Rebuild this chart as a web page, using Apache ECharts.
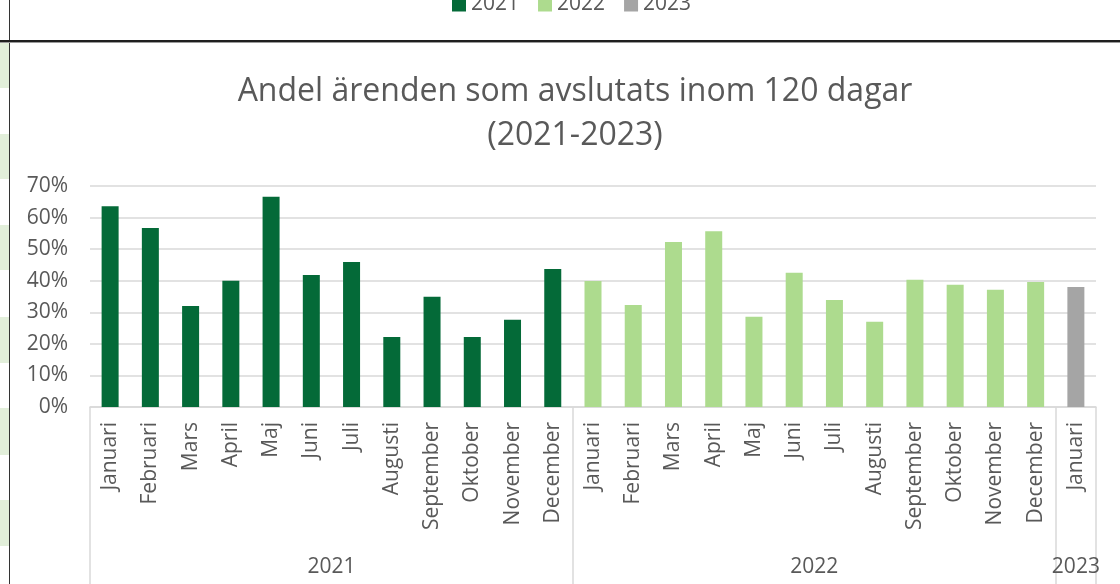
<!DOCTYPE html>
<html>
<head>
	<meta charset="utf-8">
	<title>Andel ärenden som avslutats inom 120 dagar</title>
	<script src="https://cdn.jsdelivr.net/npm/echarts@6.0.0/dist/echarts.min.js"></script>
	<style>
		html, body { margin: 0; padding: 0; background: #fff; }
		#chart { width: 1120px; height: 584px; }
	</style>
</head>
<body>
	<div id="chart"></div>
	<script>
		// data
		var years = ['2021', '2022', '2023'];
		var months2021 = ['Januari','Februari','Mars','April','Maj','Juni','Juli','Augusti','September','Oktober','November','December'];
		var months2022 = ['Januari','Februari','Mars','April','Maj','Juni','Juli','Augusti','September','Oktober','November','December'];
		var months2023 = ['Januari'];
		var values2021 = [0.636, 0.567, 0.320, 0.400, 0.666, 0.418, 0.459, 0.222, 0.349, 0.222, 0.276, 0.437];
		var values2022 = [0.399, 0.323, 0.523, 0.557, 0.286, 0.425, 0.339, 0.270, 0.403, 0.387, 0.371, 0.396];
		var values2023 = [0.380];
		var yTicks = [0, 0.1, 0.2, 0.3, 0.4, 0.5, 0.6, 0.7];

		var groups = [months2021, months2022, months2023];
		var groupValues = [values2021, values2022, values2023];
		var colors = ['#046a38', '#addb8e', '#a5a5a5'];
		var textColor = '#595959';
		var font = '"Open Sans", sans-serif';

		// flatten the two level axis
		var categories = [];
		groups.forEach(function (g) { categories = categories.concat(g); });
		var total = categories.length;

		// group borders and centres for the year level
		var borders = [0];
		var centres = [];
		var pos = 0;
		groups.forEach(function (g) {
			centres.push(pos + g.length / 2);
			pos += g.length;
			borders.push(pos);
		});

		var series = [];
		var offset = 0;
		groupValues.forEach(function (vals, i) {
			var data = [];
			for (var k = 0; k < total; k++) {
				data.push(k >= offset && k < offset + vals.length ? vals[k - offset] : null);
			}
			offset += vals.length;
			series.push({
				name: years[i],
				type: 'bar',
				stack: 'alla',
				xAxisIndex: 0,
				barWidth: 17,
				itemStyle: { color: colors[i] },
				data: data
			});
		});

		// cell look around the chart (sheet background)
		var cells = [[43, 88], [134, 179], [225, 270], [317, 363], [408, 455], [500, 546]];
		var graphics = cells.map(function (c) {
			return { type: 'rect', shape: { x: 0, y: c[0], width: 9, height: c[1] - c[0] }, style: { fill: '#e2efda' }, silent: true };
		});
		graphics.push({ type: 'rect', shape: { x: 9, y: 0, width: 1, height: 584 }, style: { fill: '#333' }, silent: true });
		graphics.push({ type: 'rect', shape: { x: 0, y: 40, width: 1120, height: 2 }, style: { fill: '#1f1f1f' }, silent: true });
		graphics.push({ type: 'rect', shape: { x: 0, y: 42, width: 1120, height: 1 }, style: { fill: '#9a9a9a' }, silent: true });

		var chart = echarts.init(document.getElementById('chart'));
		chart.setOption({
			animation: false,
			textStyle: { fontFamily: font },
			graphic: graphics,
			title: {
				text: 'Andel ärenden som avslutats inom 120 dagar\n(2021-2023)',
				left: 570,
				textAlign: 'center',
				top: 65,
				textStyle: { fontFamily: font, fontSize: 32, fontWeight: 'normal', color: textColor, lineHeight: 44 }
			},
			legend: {
				data: years,
				left: 447,
				top: -11,
				icon: 'rect',
				itemWidth: 14,
				itemHeight: 14,
				itemGap: 19,
				textStyle: { fontFamily: font, fontSize: 21, color: textColor }
			},
			grid: { left: 90, right: 24, top: 186, bottom: 177, containLabel: false },
			xAxis: [
				{
					type: 'category',
					data: categories,
					axisLine: { lineStyle: { color: '#d9d9d9', width: 1.5 } },
					axisTick: { show: false },
					axisLabel: {
						interval: 0,
						rotate: 90,
						margin: 15,
						fontFamily: font,
						fontSize: 21,
						color: textColor
					}
				},
				{
					type: 'value',
					position: 'bottom',
					offset: 177,
					min: 0,
					max: total,
					axisLine: { show: false },
					splitLine: { show: false },
					axisTick: {
						show: true,
						inside: true,
						length: 177,
						customValues: borders,
						lineStyle: { color: '#d9d9d9', width: 1.5 }
					},
					axisLabel: {
						inside: true,
						margin: 6,
						customValues: centres,
						fontFamily: font,
						fontSize: 21,
						color: textColor,
						formatter: function (v) {
							var i = centres.indexOf(v);
							return i >= 0 ? years[i] : '';
						}
					}
				}
			],
			yAxis: {
				type: 'value',
				min: yTicks[0],
				max: yTicks[yTicks.length - 1],
				interval: 0.1,
				axisLine: { show: false },
				axisTick: { show: false },
				splitLine: { lineStyle: { color: '#d9d9d9', width: 1.5 } },
				axisLabel: {
					margin: 22,
					fontFamily: font,
					fontSize: 21,
					color: textColor,
					formatter: function (v) { return Math.round(v * 100) + '%'; }
				}
			},
			series: series
		});
	</script>
</body>
</html>
